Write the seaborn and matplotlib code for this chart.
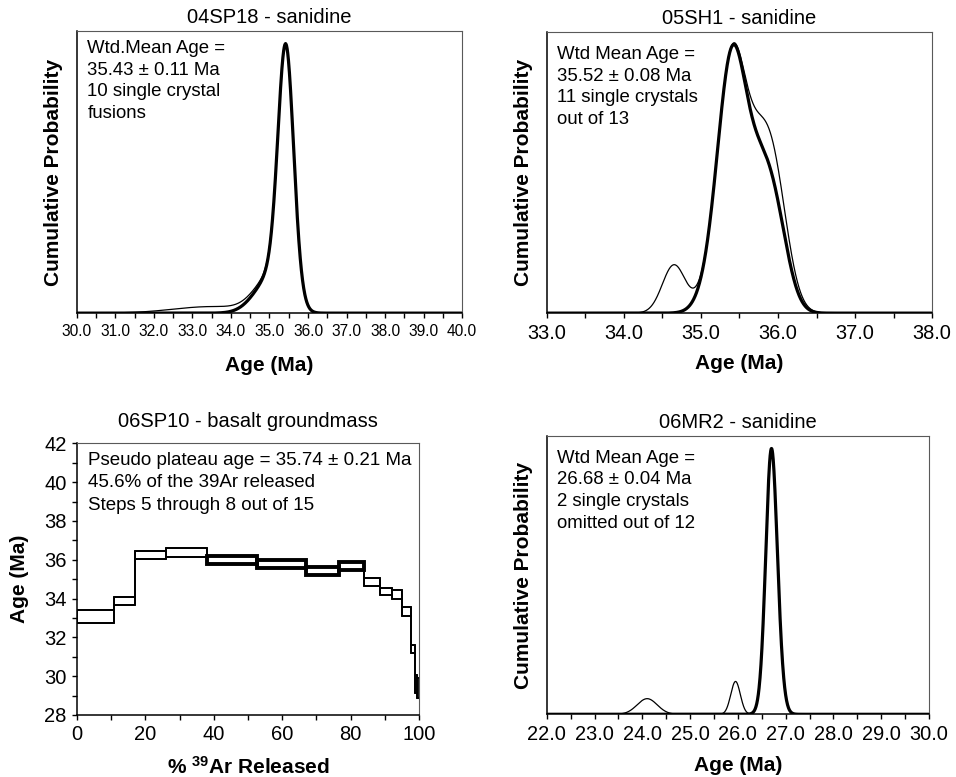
import numpy as np
import pandas as pd
import matplotlib
matplotlib.use('Agg')
import matplotlib.pyplot as plt
from matplotlib.ticker import MultipleLocator
import seaborn as sns

# --- single crystal ages (Ma) and 1-sigma errors ---
sp18_ages_used = [35.40, 35.45, 35.43, 35.48, 35.38, 35.50, 35.42, 35.35, 35.10, 34.85]
sp18_errs_used = [0.18, 0.20, 0.18, 0.22, 0.20, 0.22, 0.20, 0.25, 0.35, 0.40]
sp18_ages_omit = [33.5]
sp18_errs_omit = [1.0]

sh1_ages_used = [35.20, 35.36, 35.38, 35.40, 35.42, 35.44, 35.60, 35.70, 35.80, 35.90, 36.00]
sh1_errs_used = [0.18, 0.17, 0.17, 0.17, 0.17, 0.17, 0.18, 0.18, 0.18, 0.18, 0.17]
sh1_ages_omit = [34.65, 35.92]
sh1_errs_omit = [0.15, 0.20]

mr2_ages_used = [26.63, 26.68, 26.71, 26.73, 26.75, 26.69, 26.72, 26.77, 26.66, 26.74]
mr2_errs_used = [0.12, 0.10, 0.11, 0.13, 0.12, 0.10, 0.14, 0.12, 0.11, 0.13]
mr2_ages_omit = [24.10, 25.95]
mr2_errs_omit = [0.21, 0.10]

# --- 06SP10 step heating spectrum ---
step_edges = [0, 10.7, 16.9, 26.0, 38.0, 52.5, 67.0, 76.7, 83.8, 88.5, 92.0, 94.9, 97.7, 98.8, 99.4, 100]
step_ages = [33.09, 33.88, 36.25, 36.39, 36.00, 35.77, 35.43, 35.66, 34.85, 34.37, 34.21, 33.32, 31.39, 29.6, 29.4]
step_errs = [0.33, 0.22, 0.20, 0.23, 0.21, 0.21, 0.22, 0.21, 0.19, 0.19, 0.22, 0.22, 0.21, 0.45, 0.5]
plateau_steps = [5, 6, 7, 8]

sns.set_theme(style='ticks')
plt.rcParams['font.family'] = ['Liberation Sans', 'DejaVu Sans']
plt.rcParams['mathtext.fontset'] = 'custom'
plt.rcParams['mathtext.bf'] = 'Liberation Sans:bold'
plt.rcParams['mathtext.rm'] = 'Liberation Sans'
for k in ['text.color', 'axes.labelcolor', 'xtick.color', 'ytick.color']:
    plt.rcParams[k] = 'black'


def prob_sum(x, ages, errs):
    tot = np.zeros_like(x)
    for a, e in zip(ages, errs):
        tot += np.exp(-0.5 * ((x - a) / e) ** 2) / (e * np.sqrt(2 * np.pi))
    return tot


def style_axes(ax, tick_size):
    for s in ['left', 'bottom']:
        ax.spines[s].set_color('black')
        ax.spines[s].set_linewidth(1.1)
    for s in ['top', 'right']:
        ax.spines[s].set_color('0.35')
        ax.spines[s].set_linewidth(0.8)
    ax.tick_params(which='both', direction='out', length=3.5, width=1,
                   color='black', top=False, right=False, labelsize=tick_size, pad=4)


def prob_panel(ax, xlim, ages_used, errs_used, ages_omit, errs_omit,
               title, note, tick_size, note_y, xpad):
    x = np.linspace(xlim[0], xlim[1], 2000)
    df = pd.DataFrame({
        'age': x,
        'all': prob_sum(x, ages_used + ages_omit, errs_used + errs_omit),
        'used': prob_sum(x, ages_used, errs_used),
    })
    sns.lineplot(data=df, x='age', y='all', ax=ax, color='black', lw=0.9)
    sns.lineplot(data=df, x='age', y='used', ax=ax, color='black', lw=2.3)
    ax.set_xlim(*xlim)
    ax.set_ylim(0, df['used'].max() / 0.955)
    ax.set_yticks([])
    ax.xaxis.set_major_locator(MultipleLocator(1))
    ax.xaxis.set_minor_locator(MultipleLocator(0.5))
    ax.xaxis.set_major_formatter(lambda v, p: f'{v:.1f}')
    style_axes(ax, tick_size)
    ax.set_title(title, fontsize=14.5, pad=6)
    ax.set_xlabel('Age (Ma)', fontsize=15, fontweight='bold', labelpad=xpad)
    ax.set_ylabel('Cumulative Probability', fontsize=15, fontweight='bold', labelpad=10)
    ax.text(0.027, note_y, note, transform=ax.transAxes, fontsize=13.4,
            va='top', ha='left', linespacing=1.36)


fig = plt.figure(figsize=(9.56, 7.77), dpi=100)
ax1 = fig.add_axes([0.0805, 0.597, 0.4028, 0.363])
ax2 = fig.add_axes([0.572, 0.597, 0.403, 0.362])
ax3 = fig.add_axes([0.0805, 0.0798, 0.3578, 0.3497])
ax4 = fig.add_axes([0.572, 0.0807, 0.3998, 0.3582])

prob_panel(ax1, (30, 40), sp18_ages_used, sp18_errs_used, sp18_ages_omit, sp18_errs_omit,
           '04SP18 - sanidine',
           'Wtd.Mean Age =\n35.43 ± 0.11 Ma\n10 single crystal\nfusions', 11.2, 0.968, 12.5)
prob_panel(ax2, (33, 38), sh1_ages_used, sh1_errs_used, sh1_ages_omit, sh1_errs_omit,
           '05SH1 - sanidine',
           'Wtd Mean Age =\n35.52 ± 0.08 Ma\n11 single crystals\nout of 13', 14.4, 0.95, 8.5)
prob_panel(ax4, (22, 30), mr2_ages_used, mr2_errs_used, mr2_ages_omit, mr2_errs_omit,
           '06MR2 - sanidine',
           'Wtd Mean Age =\n26.68 ± 0.04 Ma\n2 single crystals\nomitted out of 12', 14.4, 0.951, 9)

# step heating spectrum: open boxes joined by stepped envelopes
lefts = np.array(step_edges[:-1])
widths = np.diff(step_edges)
ages = np.array(step_ages)
errs = np.array(step_errs)
is_plat = np.array([i + 1 in plateau_steps for i in range(len(ages))])
env = pd.DataFrame({
    'pct': step_edges,
    'upper': list(ages + errs) + [ages[-1] + errs[-1]],
    'lower': list(ages - errs) + [ages[-1] - errs[-1]],
})
sns.lineplot(data=env, x='pct', y='upper', ax=ax3, color='black', lw=1.3, drawstyle='steps-post')
sns.lineplot(data=env, x='pct', y='lower', ax=ax3, color='black', lw=1.3, drawstyle='steps-post')
ax3.bar(lefts[~is_plat], 2 * errs[~is_plat], width=widths[~is_plat],
        bottom=ages[~is_plat] - errs[~is_plat], align='edge',
        fill=False, edgecolor='black', linewidth=1.3)
ax3.bar(lefts[is_plat], 2 * errs[is_plat], width=widths[is_plat],
        bottom=ages[is_plat] - errs[is_plat], align='edge',
        fill=False, edgecolor='black', linewidth=2.8)
ax3.set_xlim(0, 100)
ax3.set_ylim(28, 42)
ax3.xaxis.set_major_locator(MultipleLocator(20))
ax3.xaxis.set_minor_locator(MultipleLocator(10))
ax3.yaxis.set_major_locator(MultipleLocator(2))
ax3.yaxis.set_minor_locator(MultipleLocator(1))
style_axes(ax3, 14.5)
ax3.set_title('06SP10 - basalt groundmass', fontsize=14.5, pad=12)
ax3.set_xlabel(r'% $\mathbf{^{39}}$Ar Released', fontsize=15, fontweight='bold', labelpad=8)
ax3.set_ylabel('Age (Ma)', fontsize=15, fontweight='bold', labelpad=10.5)
ax3.text(0.031, 0.968,
         'Pseudo plateau age = 35.74 ± 0.21 Ma\n45.6% of the 39Ar released\nSteps 5 through 8 out of 15',
         transform=ax3.transAxes, fontsize=13.5, va='top', ha='left', linespacing=1.42)

fig.savefig('out.png', dpi=100)
